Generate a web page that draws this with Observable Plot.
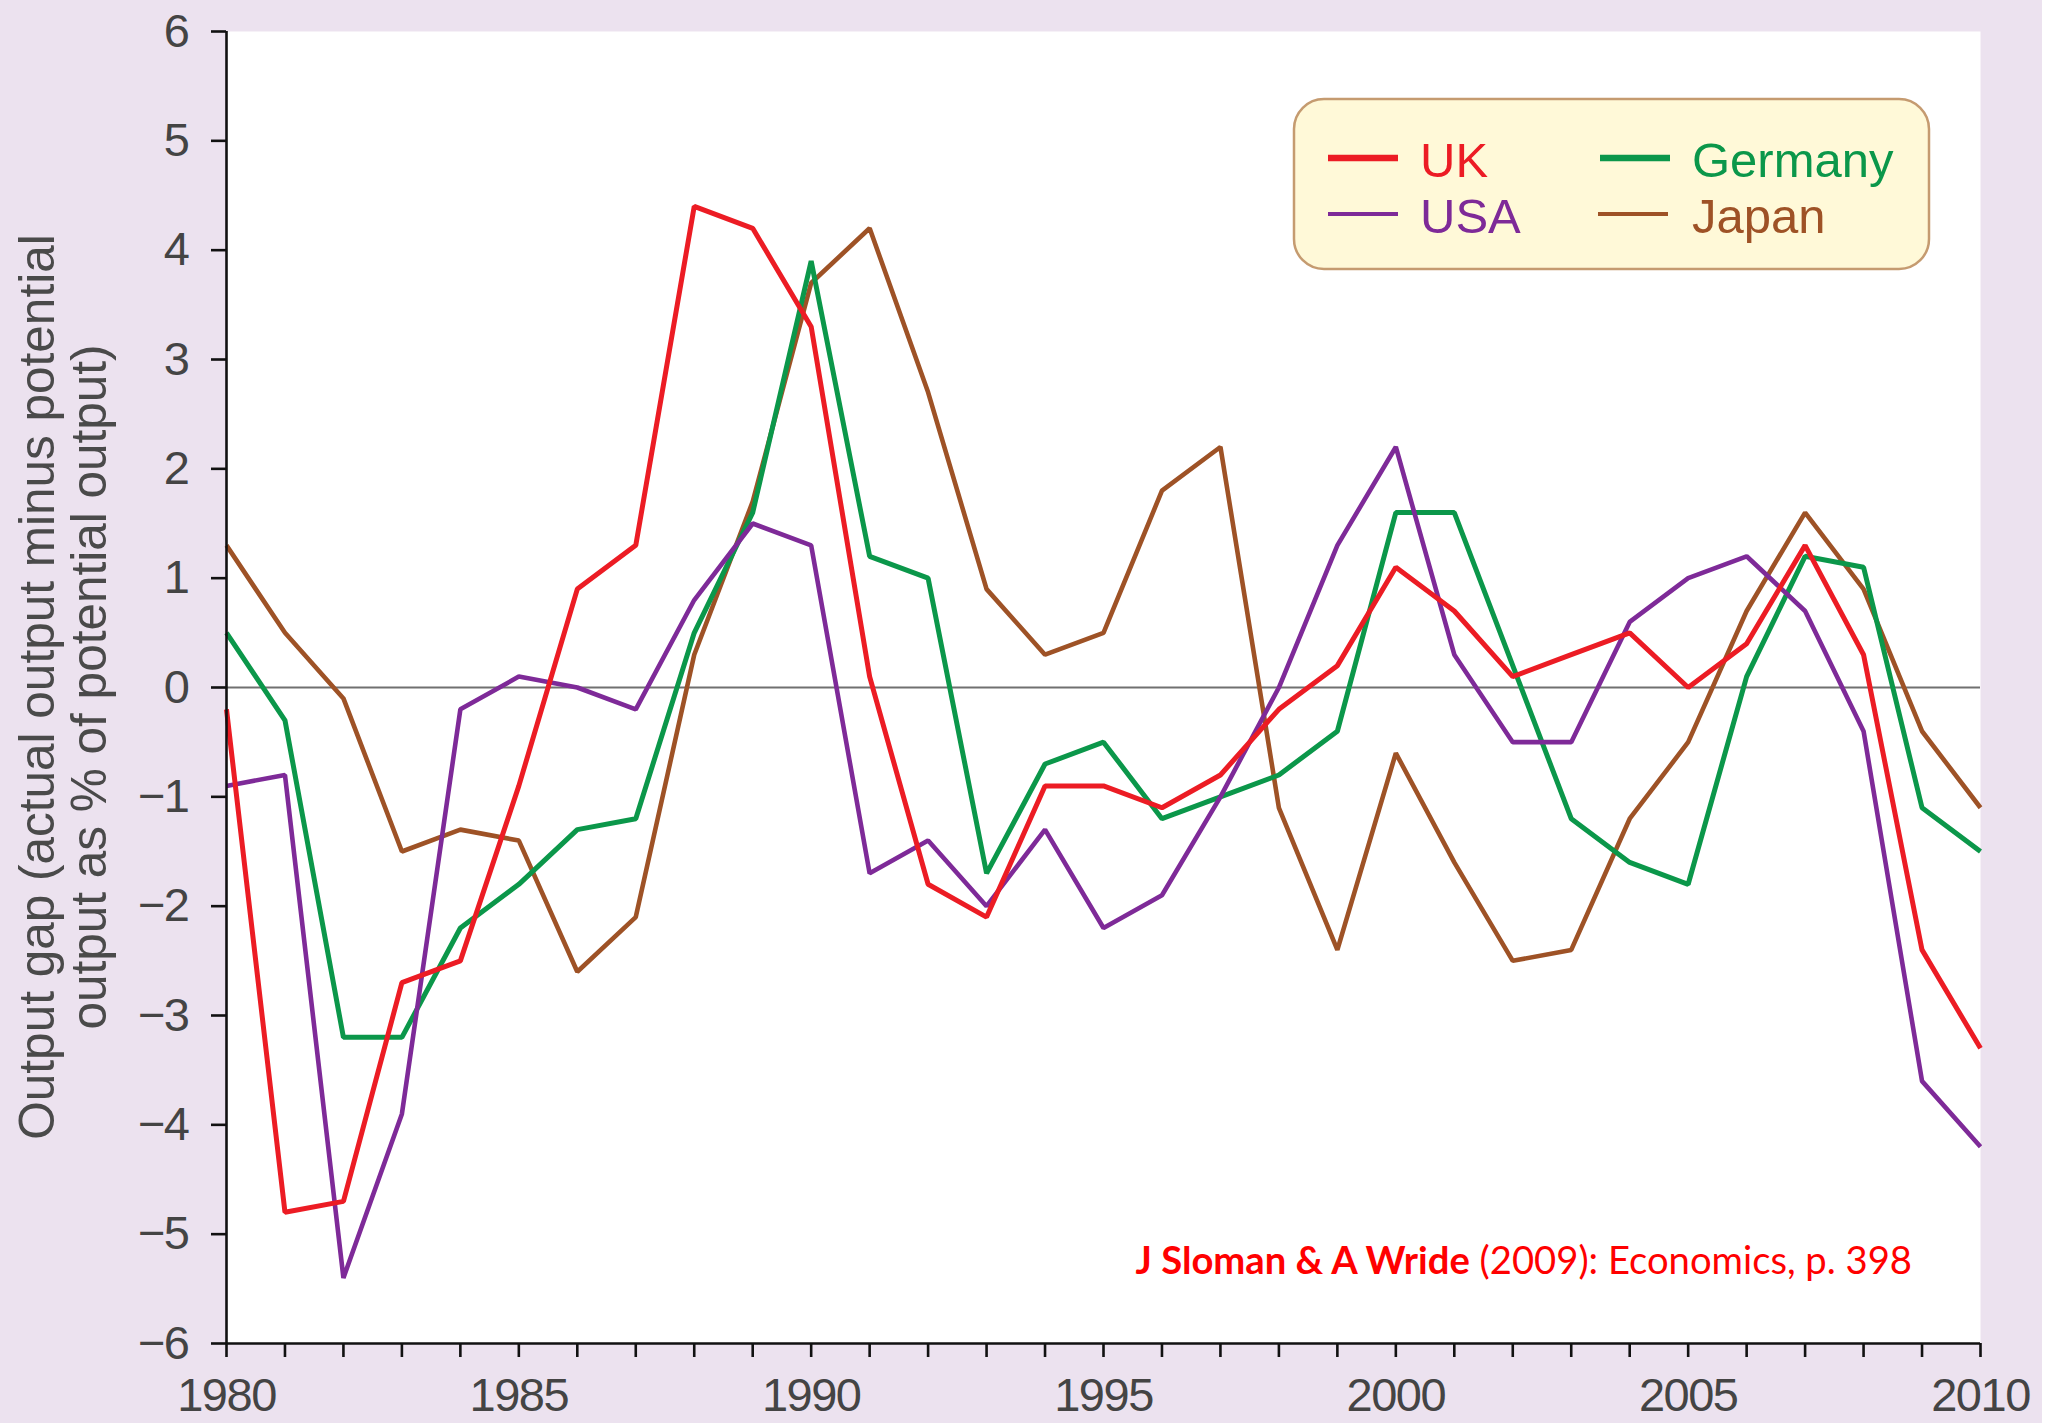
<!DOCTYPE html>
<html>
<head>
<meta charset="utf-8">
<script src="https://cdn.jsdelivr.net/npm/d3@7"></script>
<script src="https://cdn.jsdelivr.net/npm/@observablehq/plot@0.6"></script>
<style>
html, body { margin: 0; padding: 0; background: #ffffff; }
#wrap { position: relative; width: 2056px; height: 1423px; overflow: hidden; }
#bg { position: absolute; left: 0; top: 0; width: 2042px; height: 1423px; background: #ece2ef; }
#chart { position: absolute; left: 0; top: 0; }
#overlay { position: absolute; left: 0; top: 0; pointer-events: none; }
#chart g[aria-label$="tick label"] text { letter-spacing: -1.5px; }
</style>
</head>
<body>
<div id="wrap">
  <div id="bg"></div>
  <div id="chart"></div>
  <svg id="overlay" width="2056" height="1423"></svg>
</div>
<script>
// ---- data ----
const years = [1980,1981,1982,1983,1984,1985,1986,1987,1988,1989,1990,
               1991,1992,1993,1994,1995,1996,1997,1998,1999,2000,
               2001,2002,2003,2004,2005,2006,2007,2008,2009,2010];
const uk      = [-0.2,-4.8,-4.7,-2.7,-2.5,-0.9, 0.9, 1.3, 4.4, 4.2, 3.3,
                  0.1,-1.8,-2.1,-0.9,-0.9,-1.1,-0.8,-0.2, 0.2, 1.1,
                  0.7, 0.1, 0.3, 0.5, 0.0, 0.4, 1.3, 0.3,-2.4,-3.3];
const usa     = [-0.9,-0.8,-5.4,-3.9,-0.2, 0.1, 0.0,-0.2, 0.8, 1.5, 1.3,
                 -1.7,-1.4,-2.0,-1.3,-2.2,-1.9,-1.0, 0.0, 1.3, 2.2,
                  0.3,-0.5,-0.5, 0.6, 1.0, 1.2, 0.7,-0.4,-3.6,-4.2];
const germany = [ 0.5,-0.3,-3.2,-3.2,-2.2,-1.8,-1.3,-1.2, 0.5, 1.6, 3.9,
                  1.2, 1.0,-1.7,-0.7,-0.5,-1.2,-1.0,-0.8,-0.4, 1.6,
                  1.6, 0.2,-1.2,-1.6,-1.8, 0.1, 1.2, 1.1,-1.1,-1.5];
const japan   = [ 1.3, 0.5,-0.1,-1.5,-1.3,-1.4,-2.6,-2.1, 0.3, 1.7, 3.7,
                  4.2, 2.7, 0.9, 0.3, 0.5, 1.8, 2.2,-1.1,-2.4,-0.6,
                 -1.6,-2.5,-2.4,-1.2,-0.5, 0.7, 1.6, 0.9,-0.4,-1.1];
const countries = ["UK", "USA", "Germany", "Japan"];
const colors = ["#ec1c24", "#7e2a98", "#0b974a", "#9e5226"];
const yTicks = [-6,-5,-4,-3,-2,-1,0,1,2,3,4,5,6];
const xLabelYears = [1980, 1985, 1990, 1995, 2000, 2005, 2010];
const yTitle = ["Output gap (actual output minus potential", "output as % of potential output)"];
const citeBold = "J Sloman & A Wride";
const citeRest = " (2009): Economics, p. 398";

// tidy table
const seriesValues = [uk, usa, germany, japan];
const table = [];
countries.forEach((c, i) => years.forEach((yr, j) => table.push({year: yr, value: seriesValues[i][j], country: c})));

const widths = {UK: 5, USA: 4.6, Germany: 5, Japan: 4.6};
const drawOrder = ["Japan", "Germany", "USA", "UK"];
const FONT = "'Liberation Sans', Arial, Helvetica, sans-serif";

const chart = Plot.plot({
  width: 2056,
  height: 1423,
  marginLeft: 226,
  marginRight: 76,
  marginTop: 31,
  marginBottom: 80,
  style: {background: "transparent", fontFamily: FONT, fontSize: "47px", color: "#444"},
  x: {domain: [1980, 2010]},
  y: {domain: [-6, 6]},
  marks: [
    Plot.frame({fill: "white", stroke: "none"}),
    Plot.ruleY([0], {stroke: "#707070", strokeWidth: 1.8}),
    ...drawOrder.map(c => Plot.lineY(table.filter(d => d.country === c), {
      x: "year", y: "value",
      stroke: colors[countries.indexOf(c)],
      strokeWidth: widths[c],
      strokeLinejoin: "miter", strokeLinecap: "butt"
    })),
    Plot.ruleX([1980], {stroke: "#111", strokeWidth: 2.6}),
    Plot.ruleY([-6], {stroke: "#111", strokeWidth: 2.6}),
    Plot.axisY({
      ticks: yTicks, tickSize: 15, tickPadding: 23,
      tickFormat: d => d < 0 ? "\u2212" + Math.abs(d) : String(d),
      color: "#444", stroke: "#111", strokeWidth: 2.6,
      fontSize: 47, label: null
    }),
    Plot.axisX({
      ticks: years, tickSize: 14, tickPadding: 20,
      tickFormat: d => xLabelYears.includes(d) ? String(d) : "",
      color: "#444", stroke: "#111", strokeWidth: 2.6,
      fontSize: 47, label: null
    })
  ]
});
document.getElementById("chart").appendChild(chart);

// ---- overlay: axis title, legend, citation ----
const svg = d3.select("#overlay");

const tg = svg.append("g")
  .attr("font-family", FONT).attr("font-size", 49.5)
  .attr("fill", "#4a4a4a").attr("text-anchor", "middle");
tg.append("text").attr("transform", "translate(54,687) rotate(-90)").text(yTitle[0]);
tg.append("text").attr("transform", "translate(106,687) rotate(-90)").text(yTitle[1]);

// legend
const lg = svg.append("g");
lg.append("rect")
  .attr("x", 1294).attr("y", 99).attr("width", 635).attr("height", 170)
  .attr("rx", 30).attr("ry", 30)
  .attr("fill", "#fff9d8").attr("stroke", "#c59b70").attr("stroke-width", 2.5);
const legendPos = {
  UK:      {sx: 1328, tx: 1420, sy: 158, by: 177, w: 6.5},
  USA:     {sx: 1328, tx: 1420, sy: 214, by: 233, w: 4},
  Germany: {sx: 1600, tx: 1692, sy: 158, by: 177, w: 6.5},
  Japan:   {sx: 1598, tx: 1692, sy: 214, by: 233, w: 4}
};
countries.forEach((c, i) => {
  const p = legendPos[c];
  lg.append("line")
    .attr("x1", p.sx).attr("x2", p.sx + 70)
    .attr("y1", p.sy).attr("y2", p.sy)
    .attr("stroke", colors[i]).attr("stroke-width", p.w);
  lg.append("text")
    .attr("x", p.tx).attr("y", p.by)
    .attr("font-family", FONT).attr("font-size", 49)
    .attr("fill", colors[i]).text(c);
});

// citation
const ct = svg.append("text")
  .attr("x", 1912).attr("y", 1274)
  .attr("text-anchor", "end")
  .attr("font-family", "Lato, 'Open Sans', sans-serif")
  .attr("font-size", 38.2)
  .attr("fill", "#ff0000")
  .style("white-space", "pre");
ct.append("tspan").attr("font-weight", 700).text(citeBold);
ct.append("tspan").attr("font-weight", 400).text(citeRest);
</script>
</body>
</html>
